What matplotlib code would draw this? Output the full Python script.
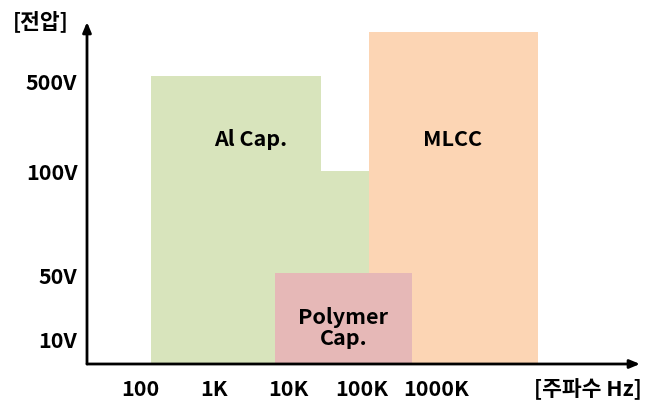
import matplotlib
matplotlib.use("Agg")
import matplotlib.pyplot as plt
from matplotlib.patches import Rectangle

plt.rcParams["font.family"] = ["Noto Sans CJK KR", "DejaVu Sans"]

# x axis: decade index (0 = 100 Hz, 1 = 1K, ...)
freq_labels = ["100", "1K", "10K", "100K", "1000K"]
freq_pos = [0, 1, 2, 3, 4]

# y axis: schematic voltage level (not to scale)
volt_labels = ["10V", "50V", "100V", "500V"]
volt_pos = [22, 87, 190, 280]

# regions: (name, x_start, x_end, top_level, colour)
regions = [
    ("Al Cap. high", 0.15, 2.45, 288, "#d8e4bc"),
    ("Al Cap. low", 2.45, 3.10, 193, "#d8e4bc"),
    ("MLCC", 3.09, 5.38, 332, "#fcd5b4"),
    ("Polymer Cap.", 1.82, 3.68, 91, "#e6b8b7"),
]
region_text = [
    ("Al Cap.", 1.50, 225),
    ("MLCC", 4.22, 225),
    ("Polymer\nCap.", 2.75, 36),
]

fig = plt.figure(figsize=(6.49, 4.09), dpi=100)
W, H = 649, 409
x0, x1 = 87, 640
y0, y1 = 364, 22
ax = fig.add_axes([x0 / W, (H - y0) / H, (x1 - x0) / W, (y0 - y1) / H])
xmin = (x0 - 140) / 74
xmax = (x1 - 140) / 74
ax.set_xlim(xmin, xmax)
ax.set_ylim(0, y0 - y1)
ax.axis("off")

for name, xs, xe, top, c in regions:
    ax.add_patch(Rectangle((xs, 0), xe - xs, top, facecolor=c, edgecolor="none"))

fs = 15.5
for txt, x, y in region_text:
    ax.text(x, y, txt, ha="center", va="center", fontsize=fs, fontweight="bold",
            linespacing=1.0)

# axes arrows
arrow = dict(arrowstyle="-|>,head_length=0.6,head_width=0.25", color="black", lw=2,
             shrinkA=0, shrinkB=0)
ax.annotate("", xy=(xmax, 0), xytext=(xmin, 0), xycoords="data", arrowprops=arrow,
            annotation_clip=False)
ax.annotate("", xy=(xmin, y0 - y1), xytext=(xmin, 0), xycoords="data", arrowprops=arrow,
            annotation_clip=False)

for lab, p in zip(freq_labels, freq_pos):
    ax.text(p, -25, lab, ha="center", va="center", fontsize=fs, fontweight="bold",
            clip_on=False)
ax.text(6.05, -25, "[주파수 Hz]", ha="center", va="center", fontsize=fs,
        fontweight="bold", clip_on=False)

for lab, p in zip(volt_labels, volt_pos):
    ax.text(xmin - 0.13, p, lab, ha="right", va="center", fontsize=fs,
            fontweight="bold", clip_on=False)
ax.text(xmin - 0.25, 343, "[전압]", ha="right", va="center", fontsize=fs,
        fontweight="bold", clip_on=False)

fig.savefig("out.png", dpi=100)
